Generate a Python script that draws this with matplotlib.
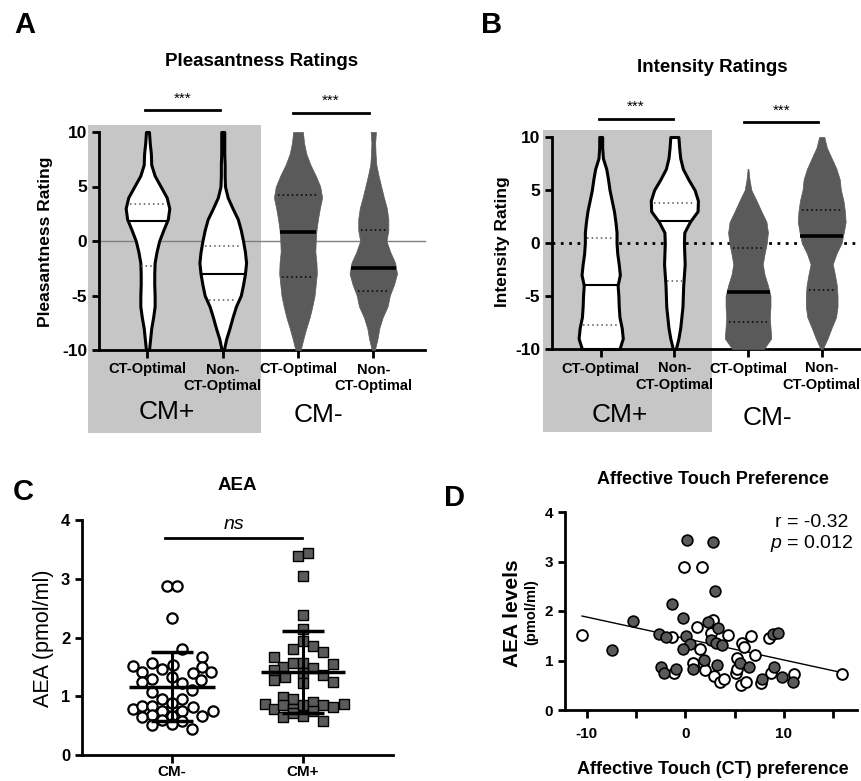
import numpy as np
import matplotlib
matplotlib.use('Agg')
import matplotlib.pyplot as plt
from matplotlib.patches import Rectangle

plt.rcParams['font.family'] = ['Liberation Sans', 'DejaVu Sans']
plt.rcParams['mathtext.fontset'] = 'custom'
plt.rcParams['mathtext.it'] = 'Liberation Sans:italic'
plt.rcParams['mathtext.rm'] = 'Liberation Sans'
plt.rcParams['axes.unicode_minus'] = False

W, H = 861, 781

# --- A / B : violins (half-width at each rating step, in category units) ---
rating_grid = list(range(-10, 11))
violin_labels = ['CT-Optimal', 'Non-\nCT-Optimal', 'CT-Optimal', 'Non-\nCT-Optimal']
group_labels = ['CM+', 'CM-']

pleas_width = [
    [0.02, 0.035, 0.05, 0.075, 0.095, 0.095, 0.09, 0.09, 0.095, 0.12, 0.155,
     0.21, 0.27, 0.29, 0.255, 0.175, 0.095, 0.05, 0.045, 0.03, 0.02],
    [0.015, 0.045, 0.09, 0.13, 0.175, 0.24, 0.27, 0.295, 0.31, 0.295, 0.27,
     0.24, 0.2, 0.13, 0.065, 0.03, 0.025, 0.025, 0.02, 0.02, 0.02],
    [0.035, 0.07, 0.11, 0.155, 0.19, 0.22, 0.235, 0.25, 0.245, 0.23, 0.235,
     0.245, 0.265, 0.29, 0.32, 0.295, 0.235, 0.165, 0.11, 0.08, 0.065],
    [0.02, 0.055, 0.08, 0.125, 0.19, 0.22, 0.275, 0.315, 0.29, 0.225, 0.175,
     0.2, 0.2, 0.18, 0.14, 0.105, 0.07, 0.04, 0.03, 0.025, 0.035],
]
pleas_median = [1.87, -3.05, 0.83, -2.45]
pleas_q1 = [-2.3, -5.4, -3.27, -4.62]
pleas_q3 = [3.36, -0.43, 4.22, 0.98]

inten_width = [
    [0.255, 0.3, 0.285, 0.255, 0.245, 0.24, 0.23, 0.26, 0.245, 0.225, 0.215,
     0.215, 0.2, 0.18, 0.15, 0.12, 0.1, 0.075, 0.03, 0.02, 0.02],
    [0.02, 0.055, 0.08, 0.095, 0.11, 0.115, 0.12, 0.13, 0.14, 0.135, 0.13,
     0.135, 0.21, 0.315, 0.32, 0.275, 0.19, 0.115, 0.08, 0.065, 0.055],
    [0.215, 0.315, 0.305, 0.295, 0.305, 0.305, 0.27, 0.225, 0.2, 0.225, 0.255,
     0.27, 0.25, 0.18, 0.115, 0.045, 0.02, 0.005, 0, 0, 0],
    [0.015, 0.08, 0.135, 0.195, 0.215, 0.215, 0.205, 0.18, 0.15, 0.2, 0.27,
     0.3, 0.325, 0.315, 0.295, 0.26, 0.245, 0.2, 0.135, 0.07, 0.035],
]
inten_median = [-3.96, 2.1, -4.62, 0.66]
inten_q1 = [-7.74, -3.6, -7.42, -4.43]
inten_q3 = [0.47, 3.8, -0.5, 3.1]

# --- C : AEA by group ---
aea_groups = ['CM-', 'CM+']
cm_neg_aea = [2.88, 2.88, 2.34, 1.80, 1.51, 1.57, 1.46, 1.53, 1.66, 1.49, 1.42,
              1.42, 1.39, 1.33, 1.30, 1.25, 1.22, 1.28, 1.11, 1.08, 0.95, 0.95,
              0.78, 0.83, 0.83, 0.82, 0.81, 0.75, 0.75, 0.75, 0.68, 0.64, 0.66,
              0.67, 0.60, 0.58, 0.51, 0.53, 0.44, 0.88]
cm_neg_jitter = [-0.04, 0.04, 0, 0.08, -0.30, -0.15, -0.08, 0.01, 0.23, 0.23, 0.30,
                 -0.23, 0.16, 0, -0.15, -0.23, 0.08, 0.22, 0.15, -0.15, -0.08, 0.08,
                 -0.30, -0.23, -0.15, 0, 0.16, 0.31, -0.08, 0.08, -0.15, -0.23, 0,
                 0.23, -0.08, 0.08, -0.15, 0, 0.15, 0]
cm_pos_aea = [3.39, 3.43, 3.05, 2.39, 2.14, 1.94, 1.80, 1.86, 1.76, 1.66, 1.50,
              1.56, 1.56, 1.48, 1.55, 1.44, 1.33, 1.39, 1.36, 1.28, 1.22, 1.24,
              0.99, 0.96, 0.87, 0.78, 0.85, 0.79, 0.85, 0.91, 0.85, 0.81, 0.86,
              0.65, 0.66, 0.75, 0.58, 0.72]
cm_pos_jitter = [-0.04, 0.04, 0, 0, 0, 0, -0.08, 0.08, 0.15, -0.22, -0.15,
                 -0.08, 0, 0.08, 0.23, -0.22, -0.14, 0, 0.15, -0.22, 0, 0.23,
                 -0.15, -0.08, -0.29, -0.22, -0.15, -0.08, 0, 0.08, 0.15, 0.23, 0.31,
                 -0.15, 0, 0.08, 0.15, -0.08]
aea_mean = [1.163, 1.413]
aea_sd = [0.585, 0.70]

# --- D : AEA vs affective touch preference ---
cmpos_pref = [0.17, 2.83, 3.0, -1.33, -0.23, -5.3, 2.33, 3.27, -2.63, -1.97, 0.1,
              0.43, -0.23, 2.6, 3.1, 3.67, -7.4, 8.93, 9.43, 1.93, 3.17, 5.5, 6.5,
              -2.47, -2.17, -0.97, 0.77, 9.0, 9.83, 7.77, 10.87]
cmpos_aea = [3.44, 3.39, 2.41, 2.14, 1.86, 1.80, 1.78, 1.66, 1.53, 1.48, 1.50,
             1.33, 1.24, 1.41, 1.36, 1.31, 1.22, 1.53, 1.56, 1.01, 0.91, 0.95, 0.86,
             0.87, 0.74, 0.82, 0.82, 0.87, 0.67, 0.62, 0.57]
cmneg_pref = [-10.47, -0.13, 1.67, 2.83, 1.17, -1.4, 1.53, 4.37, 2.6, 6.7, 5.77,
              5.93, 7.1, 5.27, 8.43, 1.77, 0.77, 2.0, 2.93, 3.5, 3.93, 5.1, 5.27,
              5.6, 6.1, 7.67, 8.67, 11.03, 15.87, -1.17]
cmneg_aea = [1.51, 2.89, 2.89, 1.82, 1.67, 1.48, 1.24, 1.51, 1.56, 1.49, 1.36,
             1.28, 1.11, 1.06, 1.45, 0.95, 0.94, 0.81, 0.69, 0.57, 0.63, 0.74, 0.82,
             0.50, 0.57, 0.54, 0.75, 0.73, 0.73, 0.75]
fit_slope = -0.0434
fit_intercept = 1.444
r_text = 'r = -0.32'
p_text = '$p$ = 0.012'

GRAY = '#5a5a5a'
SHADE = '#c6c6c6'

fig = plt.figure(figsize=(W / 100, H / 100), dpi=100)


def box(l, t, r, b):
    # pixel box -> figure fraction
    return [l / W, 1 - b / H, (r - l) / W, (b - t) / H]


def ftxt(px, py, s, **kw):
    fig.text(px / W, 1 - py / H, s, ha='center', va='center', **kw)


def style_axis(ax, size=11):
    for s in ['top', 'right']:
        ax.spines[s].set_visible(False)
    for s in ['left', 'bottom']:
        ax.spines[s].set_linewidth(2)
    ax.tick_params(width=2, length=5, labelsize=size, direction='out')
    ax.set_facecolor('none')
    for lbl in ax.get_xticklabels() + ax.get_yticklabels():
        lbl.set_fontweight('bold')


def draw_violins(ax, widths, medians, q1s, q3s):
    y = np.array(rating_grid, float)
    for i, w in enumerate(widths):
        w = np.array(w, float)
        m = w > 0
        white = i < 2
        if white:
            ax.fill_betweenx(y[m], i - w[m], i + w[m], facecolor='white',
                             edgecolor='black', linewidth=2.2, zorder=3, clip_on=False)
        else:
            ax.fill_betweenx(y[m], i - w[m], i + w[m], facecolor=GRAY,
                             edgecolor=GRAY, linewidth=0.5, zorder=3, clip_on=False)
        hw = np.interp(medians[i], y, w)
        ax.plot([i - hw, i + hw], [medians[i]] * 2, color='black',
                lw=1.5 if white else 2.6, zorder=4, solid_capstyle='butt')
        for q in (q1s[i], q3s[i]):
            hw = np.interp(q, y, w) * 0.85
            ax.plot([i - hw, i + hw], [q, q], color='#555555' if white else 'black',
                    lw=1.1, ls=(0, (1, 2)), zorder=4)


def violin_panel(rect, shade, widths, med, q1, q3, zero_style, xlim, bars):
    fig.add_artist(Rectangle((shade[0], shade[1]), shade[2], shade[3],
                             transform=fig.transFigure, facecolor=SHADE,
                             edgecolor='none', zorder=-1))
    ax = fig.add_axes(rect)
    ax.set_xlim(*xlim)
    ax.set_ylim(-10, 10)
    ax.plot(xlim, [0, 0], zorder=1, clip_on=False, **zero_style)
    draw_violins(ax, widths, med, q1, q3)
    ax.set_yticks([-10, -5, 0, 5, 10])
    ax.set_xticks(range(4))
    ax.set_xticklabels(violin_labels, linespacing=1.2)
    style_axis(ax, 12.5)
    ax.tick_params(axis='x', length=6, pad=3, labelsize=10.5)
    for x0, x1, yb in bars:
        ax.plot([x0, x1], [yb, yb], color='black', lw=2, clip_on=False)
        ax.text((x0 + x1) / 2, yb + 0.45, '***', ha='center', va='bottom',
                fontsize=11)
    return ax


# A
violin_panel(box(99, 132, 425, 350), box(88, 125, 261, 433), pleas_width,
             pleas_median, pleas_q1, pleas_q3,
             dict(color='#808080', lw=1), (-0.644, 3.687),
             [(-0.03, 0.97, 12.0), (1.93, 2.94, 11.75)])
ftxt(25, 25, 'A', fontsize=21, fontweight='bold')
ftxt(262, 62, 'Pleasantness Ratings', fontsize=13.5, fontweight='bold')
ftxt(46, 242, 'Pleasantness Rating', fontsize=12.5, fontweight='bold', rotation=90)
ftxt(167, 412, group_labels[0], fontsize=19)
ftxt(318, 415, group_labels[1], fontsize=19)

# B
violin_panel(box(552, 137, 860, 349), box(543, 130, 712, 432), inten_width,
             inten_median, inten_q1, inten_q3,
             dict(color='black', lw=2, ls=(0, (1, 2))), (-0.661, 3.52),
             [(-0.02, 0.98, 11.7), (1.95, 2.95, 11.4)])
ftxt(492, 25, 'B', fontsize=21, fontweight='bold')
ftxt(712, 67, 'Intensity Ratings', fontsize=13.5, fontweight='bold')
ftxt(502, 242, 'Intensity Rating', fontsize=12.5, fontweight='bold', rotation=90)
ftxt(620, 415, group_labels[0], fontsize=19)
ftxt(767, 418, group_labels[1], fontsize=19)

# C
axc = fig.add_axes(box(82, 520, 393, 755))
axc.set_xlim(-0.687, 1.687)
axc.set_ylim(0, 4)
axc.scatter(np.array(cm_neg_jitter), cm_neg_aea, s=55, marker='o', facecolor='white',
            edgecolor='black', linewidth=1.6, zorder=3)
axc.scatter(1 + np.array(cm_pos_jitter), cm_pos_aea, s=50, marker='s', facecolor=GRAY,
            edgecolor='black', linewidth=1, zorder=3)
axc.hlines(aea_mean, [-0.33, 0.68], [0.33, 1.32], color='black', lw=2.5, zorder=4)
axc.errorbar([0, 1], aea_mean, yerr=aea_sd, fmt='none', ecolor='black',
             elinewidth=2.2, capsize=15, capthick=2.5, zorder=4)
axc.plot([-0.05, 0.99], [3.69, 3.69], color='black', lw=2, clip_on=False)
axc.text(0.47, 3.78, 'ns', ha='center', va='bottom', fontsize=14, fontstyle='italic')
axc.set_yticks([0, 1, 2, 3, 4])
axc.set_xticks([0, 1])
axc.set_xticklabels(aea_groups)
style_axis(axc, 12)
axc.tick_params(axis='x', length=6, pad=1.5, labelsize=11)
ftxt(23, 492, 'C', fontsize=21, fontweight='bold')
ftxt(237, 485, 'AEA', fontsize=13.5, fontweight='bold')
ftxt(43, 638, 'AEA (pmol/ml)', fontsize=15.5, rotation=90)

# D
axd = fig.add_axes(box(565, 512, 857, 710))
axd.set_xlim(-12.2, 17.4)
axd.set_ylim(0, 4)
axd.scatter(cmneg_pref, cmneg_aea, s=60, facecolor='white', edgecolor='black',
            linewidth=1.4, zorder=3)
axd.scatter(cmpos_pref, cmpos_aea, s=60, facecolor=GRAY, edgecolor='black',
            linewidth=1.2, zorder=3)
all_pref = np.array(cmpos_pref + cmneg_pref)
xs = np.array([all_pref.min(), all_pref.max()])
axd.plot(xs, fit_intercept + fit_slope * xs, color='black', lw=1, zorder=2)
axd.set_xticks([-10, -5, 0, 5, 10, 15])
axd.set_xticklabels(['-10', '', '0', '', '10', ''])
axd.set_yticks([0, 1, 2, 3, 4])
style_axis(axd, 11)
axd.tick_params(axis='x', length=6, pad=6)
axd.text(0.969, 0.949, r_text, transform=axd.transAxes, ha='right', va='center',
         fontsize=14)
axd.text(0.986, 0.843, p_text, transform=axd.transAxes, ha='right', va='center',
         fontsize=14)
ftxt(455, 498, 'D', fontsize=21, fontweight='bold')
ftxt(713, 479, 'Affective Touch Preference', fontsize=13, fontweight='bold')
ftxt(713, 770, 'Affective Touch (CT) preference', fontsize=13, fontweight='bold')
ftxt(512, 613, 'AEA levels', fontsize=15, fontweight='bold', rotation=90)
ftxt(531, 612, '(pmol/ml)', fontsize=10.5, fontweight='bold', rotation=90)

fig.savefig('out.png', dpi=100)
